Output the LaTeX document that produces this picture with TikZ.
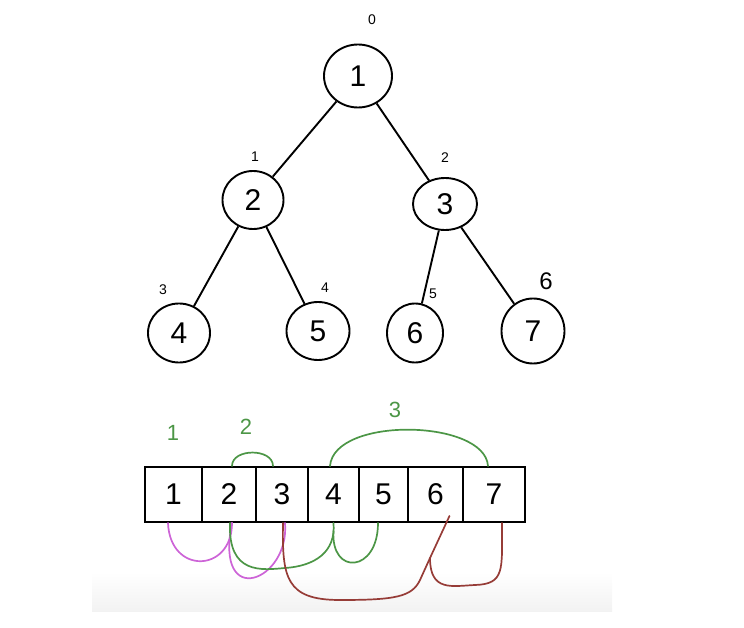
\documentclass[tikz,border=0pt]{standalone}
\usepackage{fontspec}
\setmainfont{Liberation Sans}
\usetikzlibrary{shapes.geometric,calc}
\definecolor{hgreen}{RGB}{76,150,70}
\definecolor{hmag}{RGB}{205,100,215}
\definecolor{hred}{RGB}{150,60,55}
\begin{document}
\begin{tikzpicture}[x=1pt,y=-1pt,
 tnode/.style={ellipse,draw,line width=1.9pt,inner sep=0pt,font=\fontsize{30}{32}\selectfont},
 edge/.style={line width=1.9pt},
 cell/.style={rectangle,draw,line width=1.9pt,minimum height=55pt,inner sep=0pt,font=\fontsize{30}{32}\selectfont},
 idx/.style={font=\fontsize{14}{16}\selectfont},
 glab/.style={text=hgreen,font=\fontsize{22}{24}\selectfont},
 garc/.style={draw=hgreen,line width=1.7pt,line cap=round},
 marc/.style={draw=hmag,line width=1.7pt,line cap=round},
 rarc/.style={draw=hred,line width=1.7pt,line cap=round,line join=round}]
\useasboundingbox (0,0) rectangle (744,628);
% faint band
\shade[top color=white,bottom color=black!5] (92,572) rectangle (612,611);
% tree
\node[tnode,minimum width=68pt,minimum height=63pt] (n1) at (358,76) {1};
\node[tnode,minimum width=61pt,minimum height=58pt] (n2) at (253,200) {2};
\node[tnode,minimum width=64pt,minimum height=52pt] (n3) at (445,204) {3};
\node[tnode,minimum width=62pt,minimum height=59pt] (n4) at (179,333) {4};
\node[tnode,minimum width=63pt,minimum height=58pt] (n5) at (318,331) {5};
\node[tnode,minimum width=56pt,minimum height=59pt] (n6) at (415,333) {6};
\node[tnode,minimum width=63pt,minimum height=65pt] (n7) at (533,331) {7};
\draw[edge] (n1) -- (n2);
\draw[edge] (n1) -- (n3);
\draw[edge] (n2) -- (n4);
\draw[edge] (n2) -- (n5);
\draw[edge] (n3) -- (n6);
\draw[edge] (n3) -- (n7);
% index labels
\node[idx] (i0) at (372,20) {0};
\node[idx] (i1) at (255,157) {1};
\node[idx] (i2) at (445,158) {2};
\node[idx] (i3) at (163,290) {3};
\node[idx] (i4) at (325,288) {4};
\node[idx] (i5) at (433,294) {5};
\node[idx,font=\fontsize{24}{26}\selectfont] (i6) at (546,281) {6};
% array
\node[cell,minimum width=57pt] (c1) at (173.5,494.5) {1};
\node[cell,minimum width=54pt] (c2) at (229,494.5) {2};
\node[cell,minimum width=52pt] (c3) at (282,494.5) {3};
\node[cell,minimum width=51pt] (c4) at (333.5,494.5) {4};
\node[cell,minimum width=49pt] (c5) at (383.5,494.5) {5};
\node[cell,minimum width=55pt] (c6) at (435.5,494.5) {6};
\node[cell,minimum width=62pt] (c7) at (494,494.5) {7};
% green labels
\node[glab] (g1) at (173,433) {1};
\node[glab] (g2) at (246,427) {2};
\node[glab] (g3) at (395,410) {3};
% green arcs on top
\draw[garc] ($(c2.north)+(3,0)$) .. controls +(0,-18) and +(0,-18) .. ($(c3.north)+(-9,0)$);
\draw[garc] ($(c4.north)+(-3.5,0)$) .. controls +(4,-50) and +(-3,-47) .. ($(c7.north)+(-6,0)$);
% magenta arcs
\draw[marc] ($(c1.south)+(-5.5,0)$) .. controls +(2,52) and +(0,50) .. ($(c2.south)+(3,0)$);
\draw[marc] ($(c2.south)+(3,0)$) .. controls +(-18,88) and +(5,58) .. ($(c3.south)+(3,0)$);
% green arcs below
\draw[garc] ($(c2.south)+(1,0)$) .. controls (228,575) and (262,570) .. (285,568)
  .. controls (315,566) and (336,552) .. (c4.south);
\draw[garc] ($(c4.south)+(0,8)$) .. controls +(-3,45) and +(0,50) .. ($(c5.south)+(-5.5,0)$);
% red arcs
\coordinate (r6) at (430,558);
\draw[rarc] ($(c3.south)+(1,0)$) .. controls (282,578) and (286,600) .. (340,600)
  .. controls (395,600) and (412,597) .. (420,580) -- (r6) -- ($(c6.south)+(14,-7)$);
\draw[rarc] (r6) .. controls (430,592) and (452,586) .. (475,585)
  .. controls (505,584) and (502,570) .. ($(c7.south)+(8,0)$);
\end{tikzpicture}
\end{document}
